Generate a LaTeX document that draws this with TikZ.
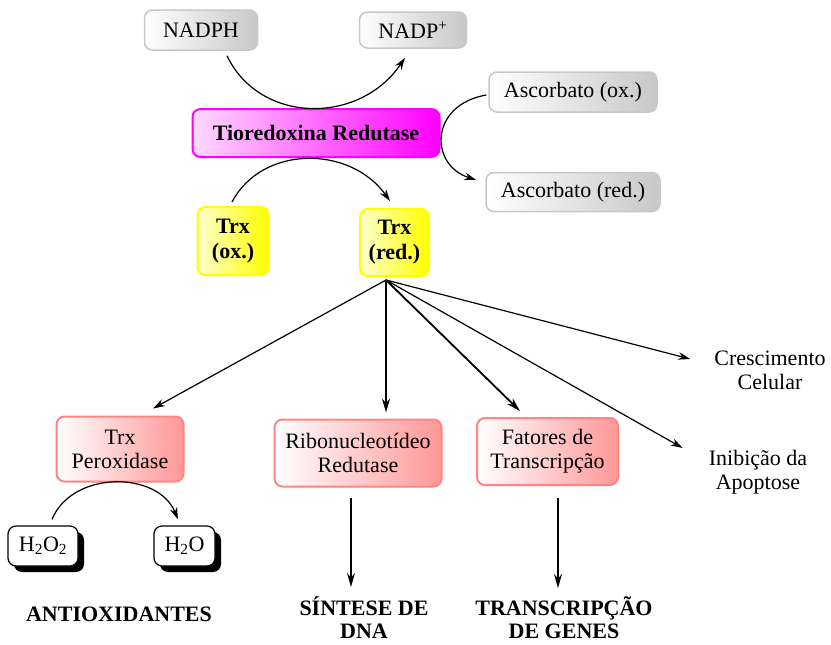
\documentclass[tikz,border=0pt]{standalone}
\usepackage{fontspec}
\setmainfont{Liberation Serif}
\usepackage{tikz}
\usetikzlibrary{arrows.meta,shadows}
\definecolor{trrmag}{HTML}{FF00FF}
\definecolor{trxyel}{HTML}{FFFF00}
\definecolor{enzpink}{HTML}{FF8585}
\definecolor{boxgray}{HTML}{C8C8C8}
\newcommand\figfont{\fontsize{22}{24}\selectfont}
\tikzset{
  every picture/.style={
    font=\figfont,
    line join=round,
    >={Stealth[length=12pt,width=7.5pt]},   % same tip everywhere
  },
  box/.style={rounded corners=8pt, align=center, inner sep=0pt, line width=1.5pt},
  graybox/.style={box, draw=boxgray, left color=white, right color=boxgray},
  trrbox/.style={box, draw=trrmag, line width=2pt, left color=trrmag!15, right color=trrmag,
    font=\figfont\bfseries},
  trxbox/.style={box, draw=trxyel, line width=2pt, left color=trxyel!20, right color=trxyel,
    font=\fontsize{22}{25}\selectfont\bfseries},
  enzbox/.style={box, draw=enzpink, line width=2pt, left color=white, right color=enzpink!85},
  molbox/.style={box, draw=black, fill=white, line width=1.2pt,
    drop shadow={fill=black, opacity=1, shadow xshift=6pt, shadow yshift=-6pt}},
  lbl/.style={inner sep=0pt, align=center},
  outcome/.style={lbl, font=\fontsize{22}{23}\selectfont\bfseries},
  link/.style={->, line width=1.2pt},
  mainlink/.style={line width=1.8pt, -{Stealth[length=14pt,width=8pt]}},
}
\begin{document}
\begin{tikzpicture}[x=1pt,y=-1pt]
\useasboundingbox (0,0) rectangle (831,645);

% cofactors and enzyme
\node[graybox, minimum width=113pt, minimum height=40pt] (nadph) at (201,30) {NADPH};
\node[graybox, minimum width=107pt, minimum height=36pt] (nadpp) at (413,30) {NADP\textsuperscript{+}};
\node[trrbox, minimum width=247pt, minimum height=48pt] (trr) at (316,133) {Tioredoxina Redutase};
\node[graybox, minimum width=168pt, minimum height=40pt] (ascox) at (573,92) {Ascorbato (ox.)};
\node[graybox, minimum width=174pt, minimum height=39pt] (ascred) at (573,192) {Ascorbato (red.)};
\node[trxbox, minimum width=71pt, minimum height=68pt] (trxox) at (233,241) {Trx\\(ox.)};
\node[trxbox, minimum width=69pt, minimum height=67pt] (trxred) at (394.5,242.5) {Trx\\(red.)};

% targets
\node[enzbox, minimum width=127pt, minimum height=65pt] (trxper) at (120,449) {Trx\\Peroxidase};
\node[enzbox, minimum width=167pt, minimum height=67pt] (ribo) at (358,453) {Ribonucleotídeo\\Redutase};
\node[enzbox, minimum width=141pt, minimum height=67pt] (fator) at (547.5,451.5) {Fatores de\\Transcripção};
\node[molbox, minimum width=70pt, minimum height=40pt] (hperox) at (43,546) {H\textsubscript{2}O\textsubscript{2}};
\node[molbox, minimum width=61pt, minimum height=40pt] (water) at (184.5,546) {H\textsubscript{2}O};
\node[lbl] (cresc) at (770,370) {Crescimento\\Celular};
\node[lbl] (inib) at (758,472) {Inibição da\\Apoptose};
\node[outcome] (antiox) at (119,614) {ANTIOXIDANTES};
\node[outcome] (sint) at (364,618) {SÍNTESE DE\\DNA};
\node[outcome] (transc) at (564,618) {TRANSCRIPÇÃO\\DE GENES};

% redox arcs
\draw[link] ([xshift=26pt,yshift=-5pt]nadph.south) .. controls +(33,69) and +(-45,67) .. ([xshift=-8pt,yshift=-9pt]nadpp.south);
\draw[link] ([xshift=-2pt,yshift=-3pt]ascox.west) .. controls +(-57,10) and +(-47,-15) .. ([xshift=-9pt,yshift=12pt]ascred.west);
\draw[link] ([xshift=-1pt,yshift=4pt]trxox.north) .. controls +(30,-57) and +(-40,-56) .. ([xshift=-4.5pt,yshift=7pt]trxred.north);
\draw[link] ([xshift=9pt,yshift=6pt]hperox.north) .. controls +(20,-49) and +(-20,-49) .. ([xshift=-6.5pt,yshift=6pt]water.north);

% fan out of Trx (red.)
\coordinate (hub) at ([xshift=-8.5pt,yshift=-3pt]trxred.south);
\draw[link] (hub) -- ([xshift=33pt,yshift=7pt]trxper.north);
\draw[mainlink] (hub) -- ([xshift=28pt,yshift=6pt]ribo.north);
\draw[mainlink] (hub) -- ([xshift=-27.5pt,yshift=6pt]fator.north);
\draw[link] (hub) -- ([xshift=-24pt,yshift=11pt]cresc.west);
\draw[link] (hub) -- ([xshift=-26pt,yshift=24pt]inib.west);

% outcomes
\coordinate (dnaend) at (351,587);
\coordinate (genend) at (558,588);
\draw[mainlink] ([xshift=-7pt,yshift=-10pt]ribo.south) -- (dnaend);
\draw[mainlink] ([xshift=10.5pt,yshift=-12pt]fator.south) -- (genend);
\end{tikzpicture}
\end{document}
